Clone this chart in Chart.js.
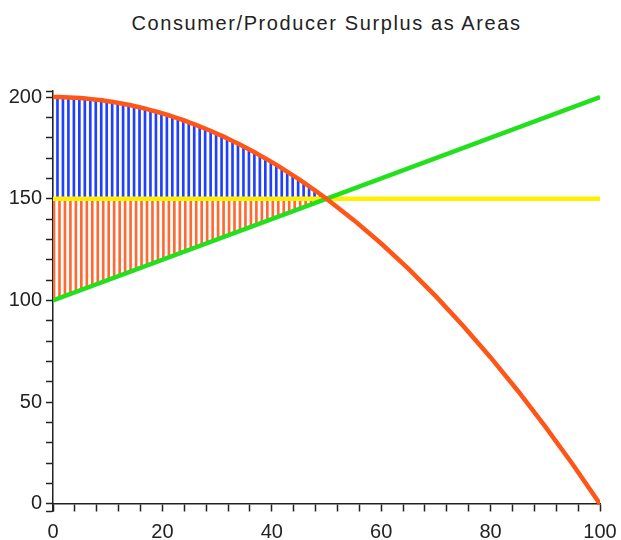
<!DOCTYPE html>
<html>
<head>
<meta charset="utf-8">
<script src="https://cdn.jsdelivr.net/npm/chart.js@4.4.1/dist/chart.umd.min.js"></script>
<style>
  body { margin: 0; background: #fff; }
  #wrap { position: relative; width: 621px; height: 540px; }
  #title {
    position: absolute; left: 53px; width: 547px; top: 12px;
    text-align: center; font: 20px "Liberation Sans", Arial, sans-serif;
    letter-spacing: 1.6px; color: #222;
  }
  canvas { position: absolute; left: 0; top: 0; }
</style>
</head>
<body>
<div id="wrap">
  <div id="title">Consumer/Producer Surplus as Areas</div>
  <canvas id="chartCanvas" width="621" height="540"></canvas>
</div>
<script>
// quantities where the surplus lines are drawn
const surplusQty = [0, 1, 2, 3, 4, 5, 6, 7, 8, 9, 10, 11, 12, 13, 14, 15, 16, 17, 18, 19, 20,
    21, 22, 23, 24, 25, 26, 27, 28, 29, 30, 31, 32, 33, 34, 35, 36, 37, 38, 39, 40,
    41, 42, 43, 44, 45, 46, 47, 48, 49, 50];
// demand price at those quantities
const demandAtQty = [200, 200, 199.9, 199.8, 199.7, 199.5, 199.3, 199, 198.7, 198.4, 198,
    197.6, 197.1, 196.6, 196.1, 195.5, 194.9, 194.2, 193.5, 192.8, 192,
    191.2, 190.3, 189.4, 188.5, 187.5, 186.5, 185.4, 184.3, 183.2, 182,
    180.8, 179.5, 178.2, 176.9, 175.5, 174.1, 172.6, 171.1, 169.6, 168,
    166.4, 164.7, 163, 161.3, 159.5, 157.7, 155.8, 153.9, 152, 150];
// supply price at those quantities
const supplyAtQty = [100, 101, 102, 103, 104, 105, 106, 107, 108, 109, 110,
    111, 112, 113, 114, 115, 116, 117, 118, 119, 120,
    121, 122, 123, 124, 125, 126, 127, 128, 129, 130,
    131, 132, 133, 134, 135, 136, 137, 138, 139, 140,
    141, 142, 143, 144, 145, 146, 147, 148, 149, 150];
// rest of the demand curve
const demandTailQty = [55, 60, 65, 70, 75, 80, 85, 90, 95, 100];
const demandTail = [139.5, 128, 115.5, 102, 87.5, 72, 55.5, 38, 19.5, 0];
// supply curve ends
const supplyLineQty = [0, 100];
const supplyLine = [100, 200];
// equilibrium price line
const priceLineQty = [0, 100];
const eqPrice = 150;

// axes
const xTickValues = [0, 4, 8, 12, 16, 20, 24, 28, 32, 36, 40, 44, 48, 52, 56, 60,
    64, 68, 72, 76, 80, 84, 88, 92, 96, 100];
const xLabelValues = [0, 20, 40, 60, 80, 100];
const yTickValues = [-3.5, 0, 10, 20, 30, 40, 50, 60, 70, 80, 90, 100, 110, 120,
    130, 140, 150, 160, 170, 180, 190, 200, 203];
const yLabelValues = [0, 50, 100, 150, 200];

function pts(xs, ys) {
    return xs.map((x, i) => ({x: x, y: ys[i]}));
}

const demandData = pts(surplusQty.concat(demandTailQty), demandAtQty.concat(demandTail));
const consumerBars = surplusQty.map((x, i) => ({x: x, y: [eqPrice, demandAtQty[i]]}));
const producerBars = surplusQty.map((x, i) => ({x: x, y: [supplyAtQty[i], eqPrice]}));

const font = {family: '"Liberation Sans", Arial, sans-serif', size: 20};

const canvas = document.getElementById('chartCanvas');
new Chart(canvas, {
    type: 'line',
    data: {
        datasets: [
            {
                type: 'line', data: demandData, borderColor: '#ff5517', borderWidth: 4.5,
                pointRadius: 0, tension: 0, order: 1
            },
            {
                type: 'line', data: pts(supplyLineQty, supplyLine), borderColor: '#22e01c',
                borderWidth: 4.5, pointRadius: 0, order: 2
            },
            {
                type: 'line', data: pts(priceLineQty, [eqPrice, eqPrice]), borderColor: '#fff000',
                borderWidth: 4.5, pointRadius: 0, order: 3
            },
            {
                type: 'bar', data: consumerBars, backgroundColor: '#2040ff',
                barThickness: 2, borderWidth: 0, order: 4
            },
            {
                type: 'bar', data: producerBars, backgroundColor: '#ff6a33',
                barThickness: 2, borderWidth: 0, order: 5
            }
        ]
    },
    options: {
        responsive: false,
        animation: false,
        devicePixelRatio: 1,
        layout: {padding: {top: 91, right: 21, bottom: 29, left: 0}},
        plugins: {legend: {display: false}, tooltip: {enabled: false}},
        scales: {
            x: {
                type: 'linear', min: 0, max: 100, offset: false,
                position: {y: 0},
                afterBuildTicks: (axis) => { axis.ticks = xTickValues.map(v => ({value: v})); },
                afterFit: (axis) => { axis.paddingLeft = 0; axis.paddingRight = 0; },
                grid: {drawOnChartArea: false, offset: false, tickLength: 7, tickColor: '#222', tickWidth: 1.5},
                border: {color: '#222', width: 1.5},
                ticks: {
                    autoSkip: false, maxRotation: 0, padding: 10, color: '#222', font: font,
                    callback: (v) => xLabelValues.includes(v) ? String(v) : ''
                }
            },
            y: {
                type: 'linear', min: -3.5, max: 203,
                afterBuildTicks: (axis) => { axis.ticks = yTickValues.map(v => ({value: v})); },
                afterFit: (axis) => { axis.width = 53; axis.paddingTop = 0; axis.paddingBottom = 0; },
                grid: {drawOnChartArea: false, tickLength: 7, tickColor: '#222', tickWidth: 1.5},
                border: {color: '#222', width: 1.5},
                ticks: {
                    autoSkip: false, padding: 4, color: '#222', font: font,
                    callback: (v) => yLabelValues.includes(v) ? String(v) : ''
                }
            }
        }
    }
});
</script>
</body>
</html>
